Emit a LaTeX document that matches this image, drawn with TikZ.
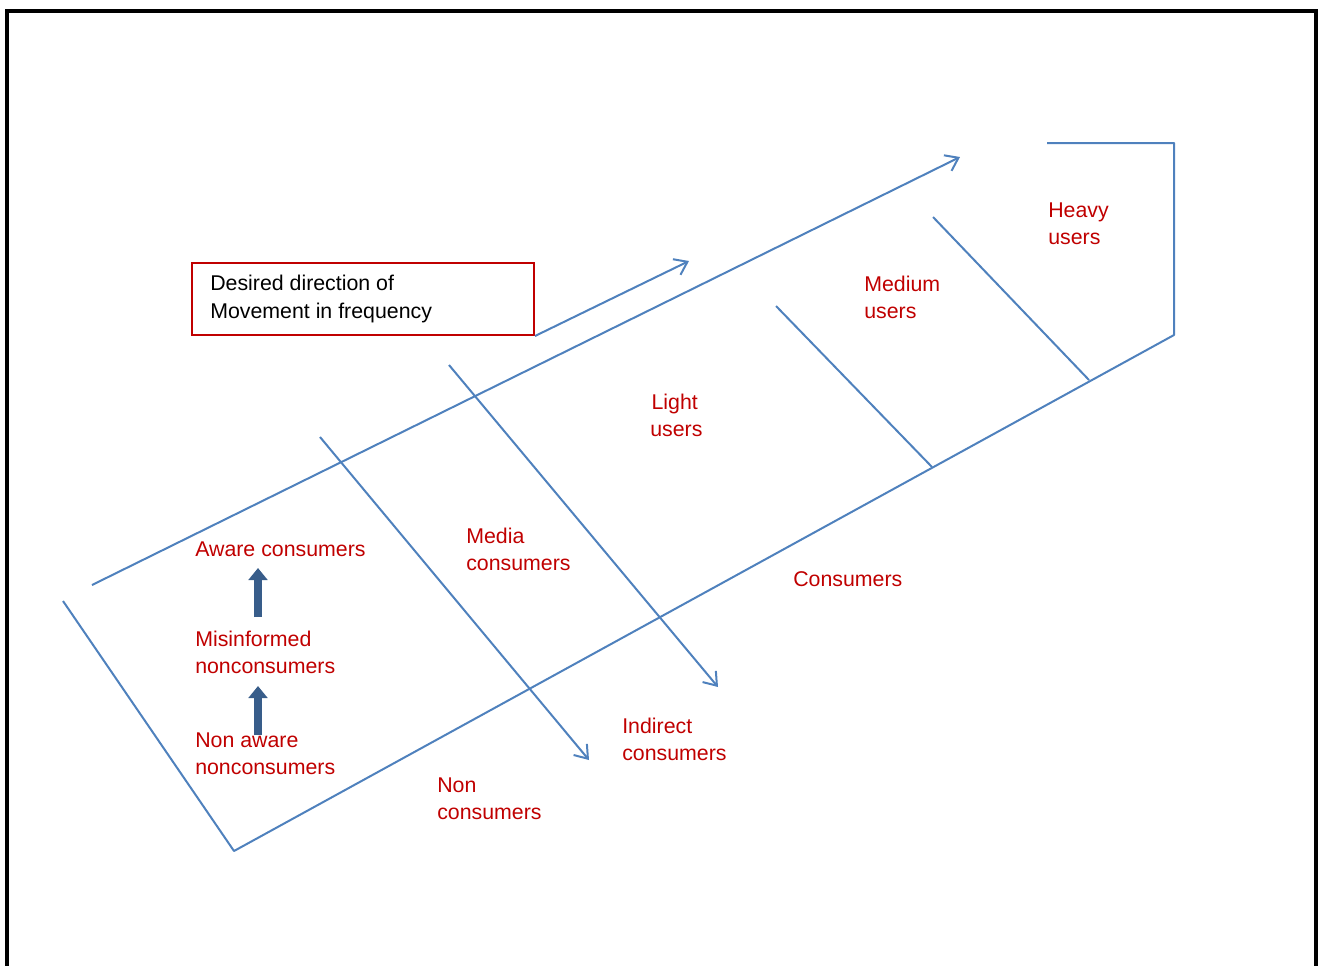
\documentclass[tikz,border=0pt]{standalone}
\usepackage{fontspec}
\setmainfont{Liberation Sans}
\usetikzlibrary{arrows.meta}
\definecolor{lineblue}{HTML}{4F81BD}
\definecolor{darkred}{HTML}{C00000}
\definecolor{navyblue}{HTML}{385D8A}
\tikzset{
  flow/.style={draw=lineblue, line width=1.5pt, line join=round},
  flowarrow/.style={flow, -{Straight Barb[length=9pt,width=13pt,line width=1.5pt]}},
  lbl/.style={text=darkred, anchor=west, align=left, inner sep=0pt,
    font=\fontsize{16}{20.25}\selectfont},
  stepup/.style={draw=navyblue, line width=6pt,
    -{Triangle[length=9pt,width=14pt]}, shorten >=0pt},
  framebox/.style={draw=black, line width=3pt},
}
\begin{document}
\begin{tikzpicture}[x=0.75pt,y=-0.75pt]
  \useasboundingbox (0,0) rectangle (1323,965);
  % outer frame, open at the bottom
  \begin{scope}
    \clip (0,0) rectangle (1323,965);
    \draw[framebox] (6.5,980) -- (6.5,11) -- (1316,11) -- (1316,980);
  \end{scope}

  % named corner points of the channel
  \coordinate (topstart) at (92,585);
  \coordinate (toptip)   at (960,157);
  \coordinate (leftend)  at (63,601);
  \coordinate (bottom)   at (234,851);
  \coordinate (rightlow) at (1174,335);
  \coordinate (rightup)  at (1174,143);
  \coordinate (capend)   at (1047,143);

  % upper edge with arrow
  \draw[flowarrow] (topstart) -- (toptip);
  % lower outline of the channel
  \draw[flow] (leftend) -- (bottom) -- (rightlow) -- (rightup) -- (capend);

  % dividers between segments
  \coordinate (d1a) at (320,437); \coordinate (d1b) at (589,760);
  \coordinate (d2a) at (449,365); \coordinate (d2b) at (718,687);
  \coordinate (d3a) at (776,306); \coordinate (d3b) at (932,467);
  \coordinate (d4a) at (933,217); \coordinate (d4b) at (1089,380);
  \draw[flowarrow] (d1a) -- (d1b);
  \draw[flowarrow] (d2a) -- (d2b);
  \draw[flow] (d3a) -- (d3b);
  \draw[flow] (d4a) -- (d4b);

  % legend box
  \node[draw=darkred, line width=1.5pt, minimum width=342*0.75pt,
        minimum height=72*0.75pt, inner sep=0pt] (legend) at (363,299) {};
  \node[anchor=west, align=left, inner sep=0pt,
        font=\fontsize{16}{20.7}\selectfont] (legendtext) at (210,299)
        {Desired direction of\\Movement in frequency};
  \coordinate (legtip) at (689,261);
  \draw[flowarrow] (legend.south east) -- (legtip);

  % segment labels
  \node[lbl] (heavy)    at (1048,223.5) {Heavy\\users};
  \node[lbl] (medium)   at (864,297.5)  {Medium\\users};
  \node[lbl] (light)    at (650,415.5)  {\hspace*{1pt}Light\\users};
  \node[lbl] (media)    at (466,549.5)  {Media\\consumers};
  \node[lbl] (cons)     at (793,579)    {Consumers};
  \node[lbl] (indirect) at (622,739.5)  {Indirect\\consumers};
  \node[lbl] (non)      at (437,798.5)  {Non\\consumers};
  \node[lbl] (aware)    at (195,549)    {Aware consumers};
  \node[lbl] (misinf)   at (195,652.5)  {Misinformed\\nonconsumers};
  \node[lbl] (nonaware) at (195,753.5)  {Non aware\\nonconsumers};

  % progression arrows
  \coordinate (s1a) at (258,617); \coordinate (s1b) at (258,568);
  \coordinate (s2a) at (258,735); \coordinate (s2b) at (258,686);
  \draw[stepup] (s1a) -- (s1b);
  \draw[stepup] (s2a) -- (s2b);
\end{tikzpicture}
\end{document}
